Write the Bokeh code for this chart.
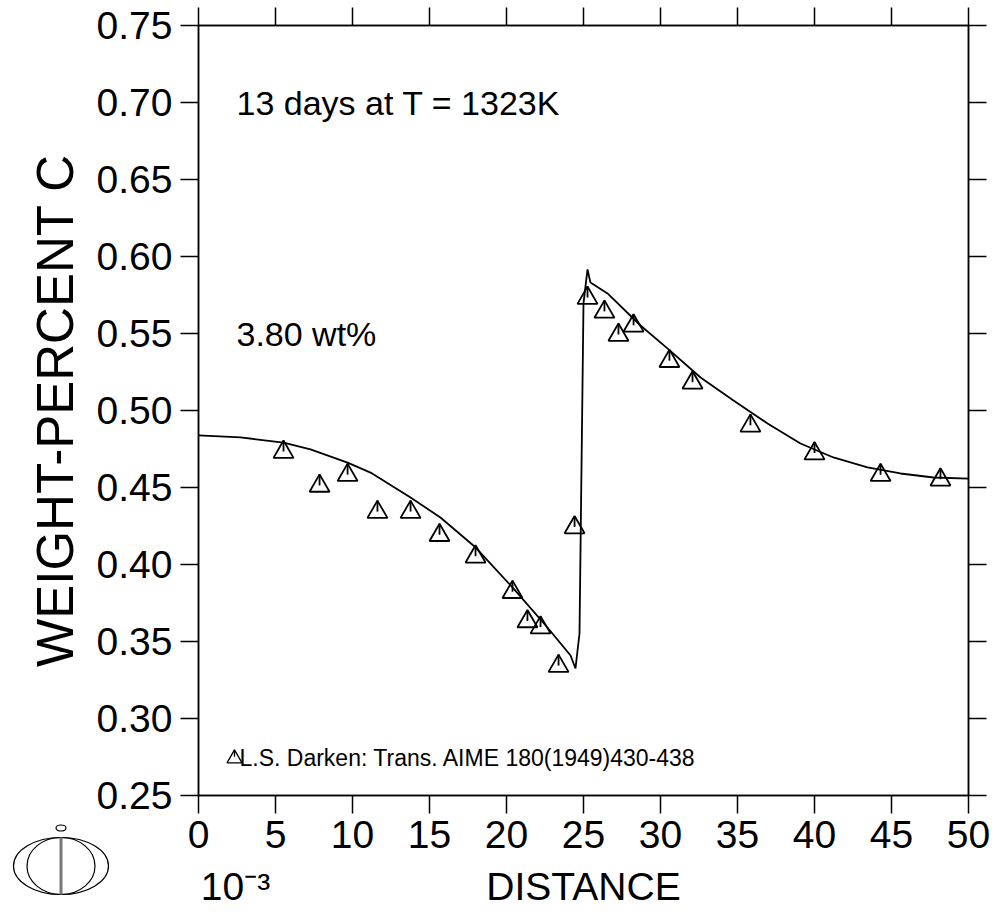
import numpy as np
from bokeh.plotting import figure
from bokeh.models import (Range1d, LinearAxis, FixedTicker, Label, PrintfTickFormatter,
                          CustomJSTickFormatter, GridBox, Div)
from bokeh.embed import file_html
from bokeh.resources import INLINE

# ---- data (distance in 1e-3 units, weight-percent C) ----
curve_x = [0.0, 2.73, 5.52, 7.27, 9.68, 11.17, 13.77, 15.71, 18.0, 20.39, 22.66, 24.16, 24.48,
           24.74, 25.0, 25.26, 25.45, 26.56, 28.70, 30.45, 32.60, 34.74, 36.95, 39.09, 41.23,
           43.44, 45.58, 47.73, 50.0]
curve_y = [0.4838, 0.4825, 0.4792, 0.4747, 0.4662, 0.4597, 0.4435, 0.4305, 0.4110, 0.3851,
           0.3591, 0.3409, 0.3325, 0.3552, 0.5695, 0.5916, 0.5831, 0.5760, 0.5552, 0.5403,
           0.5214, 0.5065, 0.4916, 0.4786, 0.4695, 0.4630, 0.4591, 0.4565, 0.4558]

meas_x = [5.52, 7.86, 9.68, 11.62, 13.77, 15.65, 17.99, 20.39, 21.36, 22.21, 23.38, 24.42,
          25.26, 26.36, 27.27, 28.25, 30.58, 32.08, 35.84, 40.0, 44.29, 48.18]
meas_y = [0.473, 0.451, 0.458, 0.434, 0.434, 0.419, 0.405, 0.382, 0.363, 0.359, 0.334, 0.424,
          0.573, 0.564, 0.549, 0.555, 0.532, 0.518, 0.490, 0.472, 0.458, 0.455]

x_ticks = [0, 5, 10, 15, 20, 25, 30, 35, 40, 45, 50]
y_ticks = [0.25, 0.30, 0.35, 0.40, 0.45, 0.50, 0.55, 0.60, 0.65, 0.70, 0.75]

title_text = "13 days at T = 1323K"
comp_text = "3.80 wt%"
legend_text = "L.S. Darken: Trans. AIME 180(1949)430-438"
x_label = "DISTANCE"
x_exp = "10\u207b\u00b3"
y_label = "WEIGHT-PERCENT C"

FONT = "Liberation Sans"
W, H = 992, 917
LEFT, RIGHT, TOP, BOTTOM = 198, 24, 25, 122
FW, FH = W - LEFT - RIGHT, H - TOP - BOTTOM
X0, X1, Y0, Y1 = 0.0, 50.0, 0.25, 0.75
PX_X = FW / (X1 - X0)   # px per x unit
PX_Y = FH / (Y1 - Y0)   # px per y unit


def cx(sx):  # canvas x -> data
    return X0 + (sx - LEFT) / PX_X


def cy(sy):  # canvas y -> data
    return Y0 + (TOP + FH - sy) / PX_Y


p = figure(width=W, height=H, x_range=Range1d(X0, X1), y_range=Range1d(Y0, Y1),
           output_backend="svg", toolbar_location=None,
           min_border_left=LEFT, min_border_right=RIGHT, min_border_top=TOP, min_border_bottom=BOTTOM,
           x_axis_location=None, y_axis_location=None)
p.grid.visible = False
p.outline_line_color = "black"
p.outline_line_width = 1.5
p.background_fill_color = "white"
p.border_fill_color = "white"


def style_axis(ax, font_size, standoff):
    ax.major_tick_out = 18
    ax.major_tick_in = 0
    ax.minor_tick_out = 0
    ax.minor_tick_in = 0
    ax.major_tick_line_width = 1.5
    ax.axis_line_width = 1.5
    ax.major_label_text_font = FONT
    ax.major_label_text_font_size = font_size
    ax.major_label_text_color = "black"
    ax.major_label_standoff = standoff


bottom = LinearAxis(ticker=FixedTicker(ticks=x_ticks), formatter=PrintfTickFormatter(format="%d"))
style_axis(bottom, "39px", 7)
p.add_layout(bottom, "below")

# second (label-only) row below the ticks: exponent and axis title
lab_axis = LinearAxis(ticker=FixedTicker(ticks=[cx(235), (X0 + X1) / 2]),
                      formatter=CustomJSTickFormatter(args=dict(a=x_exp, b=x_label, m=10.0),
                                                      code="return tick < m ? a : b"))
style_axis(lab_axis, "39px", 14)
lab_axis.major_tick_out = 0
lab_axis.axis_line_color = None
lab_axis.major_tick_line_color = None
p.add_layout(lab_axis, "below")

left = LinearAxis(ticker=FixedTicker(ticks=y_ticks), formatter=PrintfTickFormatter(format="%.2f"),
                  axis_label=y_label)
style_axis(left, "39px", 8)
left.axis_label_text_font = FONT
left.axis_label_text_font_size = "51px"
left.axis_label_text_font_style = "normal"
left.axis_label_text_color = "black"
left.axis_label_standoff = 10
p.add_layout(left, "left")

blank = CustomJSTickFormatter(code="return ''")
top = LinearAxis(ticker=FixedTicker(ticks=x_ticks), formatter=blank)
style_axis(top, "1px", 0)
p.add_layout(top, "above")

right = LinearAxis(ticker=FixedTicker(ticks=y_ticks), formatter=blank)
style_axis(right, "1px", 0)
p.add_layout(right, "right")

# calculated curve
p.line(curve_x, curve_y, line_color="black", line_width=1.8)

# measured points: triangles with a pin
SIZE = 20
h = SIZE / 2 * np.sqrt(3)
p.scatter(meas_x, meas_y, marker="triangle", size=SIZE, fill_color=None,
          line_color="black", line_width=1.8)
my = np.array(meas_y)
p.segment(x0=meas_x, y0=(my + (2 * h / 3) / PX_Y).tolist(), x1=meas_x,
          y1=(my + (2 * h / 3 - 11) / PX_Y).tolist(), line_color="black", line_width=1.8)

# legend entry
LS = 15
lh = LS / 2 * np.sqrt(3)
lx, ly = cx(234), cy(758)
p.scatter([lx], [ly], marker="triangle", size=LS, fill_color=None, line_color="black", line_width=1.3)
p.segment(x0=[lx], y0=[ly + (2 * lh / 3) / PX_Y], x1=[lx], y1=[ly + (2 * lh / 3 - 7) / PX_Y],
          line_color="black", line_width=1.3)
p.add_layout(Label(x=cx(239), y=cy(757), text=legend_text, text_font=FONT,
                   text_font_size="23px", text_baseline="alphabetic", text_color="black"))

# inside texts
p.add_layout(Label(x=cx(236), y=cy(102), text=title_text, text_font=FONT,
                   text_font_size="34px", text_baseline="alphabetic", text_color="black"))
p.add_layout(Label(x=cx(236), y=cy(333), text=comp_text, text_font=FONT,
                   text_font_size="34px", text_baseline="alphabetic", text_color="black"))

# logo (bottom-left corner): small inline drawing laid over the same grid cell
logo_svg = (
    '<svg xmlns="http://www.w3.org/2000/svg" width="120" height="100" viewBox="0 0 120 100">'
    '<ellipse cx="61" cy="66" rx="47.5" ry="28.5" fill="none" stroke="black" stroke-width="1.2"/>'
    '<ellipse cx="61" cy="66" rx="34" ry="28.5" fill="none" stroke="black" stroke-width="1.2"/>'
    '<ellipse cx="61" cy="28" rx="5" ry="3" fill="none" stroke="black" stroke-width="1.2"/>'
    '<rect x="59.5" y="37.5" width="3" height="57" fill="#777777"/>'
    '</svg>'
)
logo = Div(text=logo_svg, width=120, height=100, margin=(800, 0, 0, 0))
logo.styles = {"z-index": "10"}

layout = GridBox(children=[(p, 0, 0), (logo, 0, 0)])
open("out.html", "w").write(file_html(layout, INLINE))
